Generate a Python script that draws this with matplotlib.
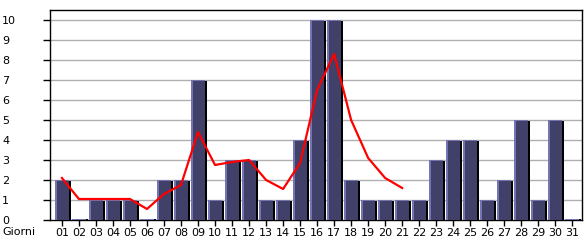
import matplotlib
matplotlib.use("Agg")
import matplotlib.pyplot as plt

giorni = ["01", "02", "03", "04", "05", "06", "07", "08", "09", "10",
          "11", "12", "13", "14", "15", "16", "17", "18", "19", "20",
          "21", "22", "23", "24", "25", "26", "27", "28", "29", "30", "31"]
visite = [2, 0, 1, 1, 1, 0, 2, 2, 7, 1,
          3, 3, 1, 1, 4, 10, 10, 2, 1, 1,
          1, 1, 3, 4, 4, 1, 2, 5, 1, 5, 0]
# red trend line (first 21 days only)
media = [2.1, 1.05, 1.05, 1.05, 1.05, 0.55, 1.3, 1.75, 4.4, 2.75,
         2.9, 3.0, 2.0, 1.55, 2.85, 6.5, 8.3, 5.0, 3.1, 2.1, 1.6]
yticks = list(range(0, 11))

fig = plt.figure(figsize=(5.85, 2.4), dpi=100)
ax = fig.add_axes([50 / 585, 20 / 240, 532 / 585, 210 / 240])

x = list(range(len(giorni)))
px = 1 / 17.1   # one pixel in x units
py = 0.05       # one pixel in y units
w = 14 * px

for yv in yticks[1:]:
    ax.axhline(yv, color="#b0b0b0", lw=1.0, zorder=0)

heights = [max(v, 0.06) for v in visite]
# shadow
ax.bar([i + w / 2 + px for i in x], [max(h - py, 0.06) for h in heights],
       width=2 * px, color="black", zorder=2, linewidth=0)
# light outline part
ax.bar(x, heights, width=w, color="#7474b0", zorder=3, linewidth=0)
# dark body
ax.bar([i + px for i in x], [max(h - py, 0) for h in heights],
       width=w - 2 * px, color="#404068", zorder=4, linewidth=0)

ax.plot(x[:len(media)], media, color="#ff0000", lw=1.6, zorder=5)

ax.set_xlim(-0.7, 30.57)
ax.set_ylim(0, 10.5)
ax.set_xticks(x)
ax.set_xticklabels(giorni, fontsize=8)
ax.set_yticks(yticks)
ax.set_yticklabels([str(v) for v in yticks], fontsize=8, ha="left")
ax.tick_params(axis="y", length=5, width=1, pad=29.5)
ax.tick_params(axis="x", length=4, width=1, pad=2)
for s in ax.spines.values():
    s.set_linewidth(1)
ax.set_facecolor("white")

fig.text(2 / 585, 1 - 232 / 240, "Giorni", fontsize=8, va="center", ha="left")

fig.savefig("out.png", dpi=100, facecolor="white")
